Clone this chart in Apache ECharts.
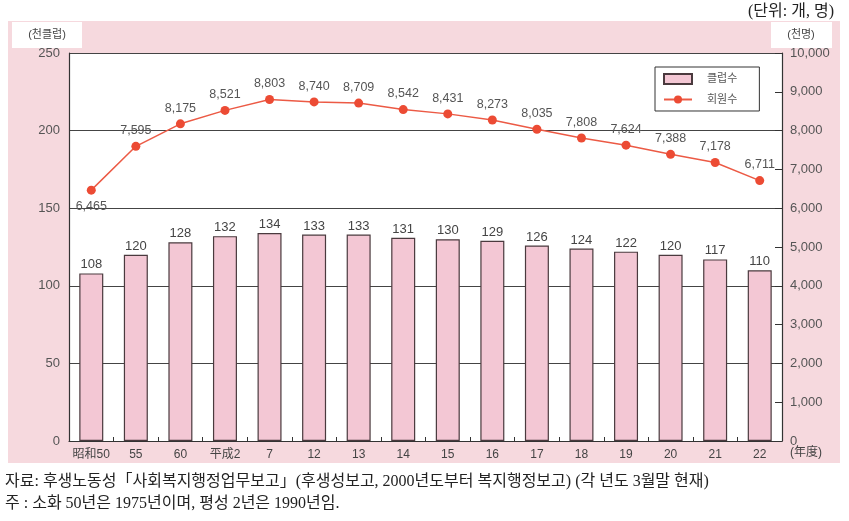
<!DOCTYPE html>
<html>
<head>
<meta charset="utf-8">
<script src="https://cdn.jsdelivr.net/npm/echarts@6/dist/echarts.min.js"></script>
<style>
html,body{margin:0;padding:0;background:#fff;}
#c{width:849px;height:521px;}
</style>
</head>
<body>
<div id="c"></div>
<script>
const categories = ['昭和50','55','60','平成2','7','12','13','14','15','16','17','18','19','20','21','22'];
const clubs = [108,120,128,132,134,133,133,131,130,129,126,124,122,120,117,110];
const members = [6465,7595,8175,8521,8803,8740,8709,8542,8431,8273,8035,7808,7624,7388,7178,6711];
const seriesNames = ['클럽수','회원수'];
const leftUnit = '(천클럽)';
const rightUnit = '(천명)';
const unitNote = '(단위: 개, 명)';
const yearLabel = '(年度)';
const source = '자료: 후생노동성「사회복지행정업무보고」(후생성보고, 2000년도부터 복지행정보고) (각 년도 3월말 현재)';
const note = '주 : 소화 50년은 1975년이며, 평성 2년은 1990년임.';

const FONT = '"Liberation Sans", Arial, "Noto Sans CJK KR", sans-serif';
const SERIF = '"Liberation Serif", "DejaVu Serif", "Noto Sans CJK KR", serif';
const chart = echarts.init(document.getElementById('c'), null, {renderer:'canvas'});

const memberData = members.map((v,i)=>{
  const d = {value:v};
  if (i===0) d.label = {position:'bottom', distance:6};
  return d;
});

chart.setOption({
  animation:false,
  backgroundColor:'#ffffff',
  textStyle:{fontFamily:FONT},
  graphic:[
    {type:'rect', z:-10, shape:{x:8,y:21,width:832,height:442}, style:{fill:'#f6d9de'}},
    {type:'rect', z:-9, shape:{x:69,y:53,width:713,height:388}, style:{fill:'#ffffff'}},
    {type:'rect', shape:{x:12,y:22,width:70,height:26}, style:{fill:'#ffffff'}},
    {type:'text', style:{text:leftUnit, x:47, y:35, align:'center', verticalAlign:'middle', fontSize:11, fill:'#444', fontFamily:FONT}},
    {type:'rect', shape:{x:771,y:22,width:61,height:26}, style:{fill:'#ffffff'}},
    {type:'text', style:{text:rightUnit, x:801, y:35, align:'center', verticalAlign:'middle', fontSize:11, fill:'#444', fontFamily:FONT}},
    {type:'text', style:{text:unitNote, x:834, y:12, align:'right', verticalAlign:'middle', fontSize:16, fill:'#222', fontFamily:SERIF}},
    {type:'text', style:{text:yearLabel, x:790, y:453, align:'left', verticalAlign:'middle', fontSize:12, fill:'#444', fontFamily:FONT}},
    {type:'text', style:{text:source, x:5, y:482, align:'left', verticalAlign:'middle', fontSize:16, fill:'#222', fontFamily:SERIF}},
    {type:'text', style:{text:note, x:5, y:504, align:'left', verticalAlign:'middle', fontSize:16, fill:'#222', fontFamily:SERIF}}
  ],
  legend:{
    orient:'vertical', left:655, top:67,
    data:[{name:seriesNames[0], icon:'rect'}, {name:seriesNames[1]}],
    backgroundColor:'#ffffff', borderColor:'#333', borderWidth:1,
    padding:[6,22,6,8], itemGap:9, itemWidth:28, itemHeight:10,
    textStyle:{fontSize:11, color:'#555', padding:[0,0,0,10]}
  },
  grid:{left:69, right:67, top:53, bottom:80, containLabel:false},
  xAxis:{
    type:'category', data:categories,
    axisLine:{lineStyle:{color:'#333', width:1.2}},
    axisTick:{show:true, inside:true, length:4, lineStyle:{color:'#333'}},
    axisLabel:{color:'#444', fontSize:12, margin:8, interval:0}
  },
  yAxis:[
    {type:'value', min:0, max:250, interval:50, position:'left',
     axisLine:{show:true, lineStyle:{color:'#333', width:1.2}},
     axisTick:{show:false},
     axisLabel:{color:'#555', fontSize:13, margin:9},
     splitLine:{show:true, lineStyle:{color:'#444', width:1.2}}},
    {type:'value', min:0, max:10000, interval:1000, position:'right',
     axisLine:{show:true, lineStyle:{color:'#333', width:1.2}},
     axisTick:{show:true, inside:true, length:7, lineStyle:{color:'#333'}},
     axisLabel:{color:'#555', fontSize:13, margin:8, formatter:v=>v.toLocaleString('en-US')},
     splitLine:{show:false}}
  ],
  series:[
    {name:seriesNames[0], type:'bar', yAxisIndex:0, data:clubs, barWidth:24,
     itemStyle:{color:'#f3c7d4', borderColor:'#4a3a3e', borderWidth:1.2},
     label:{show:true, position:'top', distance:2, color:'#444', fontSize:13, fontFamily:FONT},
     z:3},
    {name:seriesNames[1], type:'line', yAxisIndex:1, data:memberData,
     symbol:'circle', symbolSize:9,
     lineStyle:{color:'#ec5a45', width:1.5},
     itemStyle:{color:'#ec4b34'},
     label:{show:true, position:'top', distance:5, color:'#555', fontSize:12.5, fontFamily:FONT,
            formatter:p=>p.value.toLocaleString('en-US')},
     z:5}
  ]
});
</script>
</body>
</html>
